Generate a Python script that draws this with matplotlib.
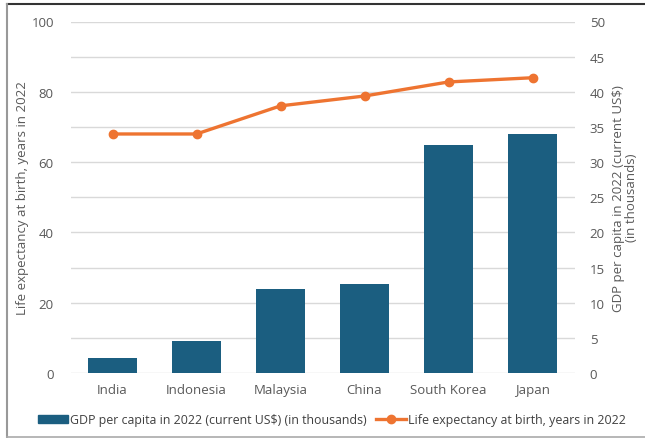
import matplotlib.pyplot as plt
import numpy as np
from matplotlib.lines import Line2D

plt.rcParams['font.family'] = ['Open Sans', 'DejaVu Sans']

countries = ["India", "Indonesia", "Malaysia", "China", "South Korea", "Japan"]
gdp_thousands = [2.2, 4.6, 11.9, 12.6, 32.4, 34.0]
life_expectancy = [68.0, 68.0, 76.0, 78.8, 82.8, 84.0]

bar_color = "#1b5e80"
line_color = "#ee7431"
text_color = "#595959"
grid_color = "#d9d9d9"

fig = plt.figure(figsize=(6.45, 4.39), dpi=100)
ax = fig.add_axes([70.5 / 645, 1 - 374 / 439, 504 / 645, 351.5 / 439])
ax2 = ax.twinx()

x = np.arange(len(countries))

# GDP bars on the right axis, drawn behind the life expectancy line
ax2.bar(x, gdp_thousands, width=0.58, color=bar_color, zorder=2)
ax2.set_ylim(0, 50)
ax2.set_yticks(np.arange(0, 51, 5))

ax.set_zorder(ax2.get_zorder() + 1)
ax.patch.set_visible(False)
ax.plot(x, life_expectancy, color=line_color, lw=2.4, marker="o", ms=6, zorder=3)
ax.set_ylim(0, 100)
ax.set_yticks(np.arange(0, 101, 20))
ax.set_xlim(-0.5, len(countries) - 0.5)
ax.set_xticks(x)
ax.set_xticklabels(countries)

# horizontal gridlines every 10 years (every 5 thousand on the right)
for v in range(0, 101, 10):
    ax2.axhline(v / 2, color=grid_color, lw=1, zorder=0)

for a in (ax, ax2):
    for s in a.spines.values():
        s.set_visible(False)
    a.tick_params(length=0, colors=text_color, labelsize=9.5)
ax.tick_params(axis="x", pad=7)
ax.tick_params(axis="y", pad=12)
ax2.tick_params(axis="y", pad=11)

ax.set_ylabel("Life expectancy at birth, years in 2022", color=text_color, fontsize=9.5, labelpad=2)
ax2.set_ylabel("GDP per capita in 2022 (current US$)\n(in thousands)", color=text_color,
               fontsize=9.5, labelpad=5, linespacing=1.05)

handles = [
    plt.Rectangle((0, 0), 1, 1, color=bar_color),
    Line2D([0], [0], color=line_color, lw=2.4, marker="o", ms=6),
]
labels = ["GDP per capita in 2022 (current US$) (in thousands)",
          "Life expectancy at birth, years in 2022"]
fig.legend(handles, labels, loc="center", bbox_to_anchor=(0.515, 1 - 421 / 439), ncol=2,
           frameon=False, fontsize=8.9, labelcolor="#404040", handlelength=2.4,
           handleheight=0.55, columnspacing=0.8, handletextpad=0.15)

# outer frame
fig.add_artist(Line2D([7 / 645, 1], [1 - 5 / 439, 1 - 5 / 439], color="#333333", lw=1.5))
fig.add_artist(Line2D([7 / 645, 7 / 645], [1 - 5 / 439, 1 - 437.5 / 439], color="#999999", lw=1.5))
fig.add_artist(Line2D([7 / 645, 1], [1 - 437.5 / 439, 1 - 437.5 / 439], color="#aaaaaa", lw=1.2))

fig.savefig("out.png", dpi=100)
